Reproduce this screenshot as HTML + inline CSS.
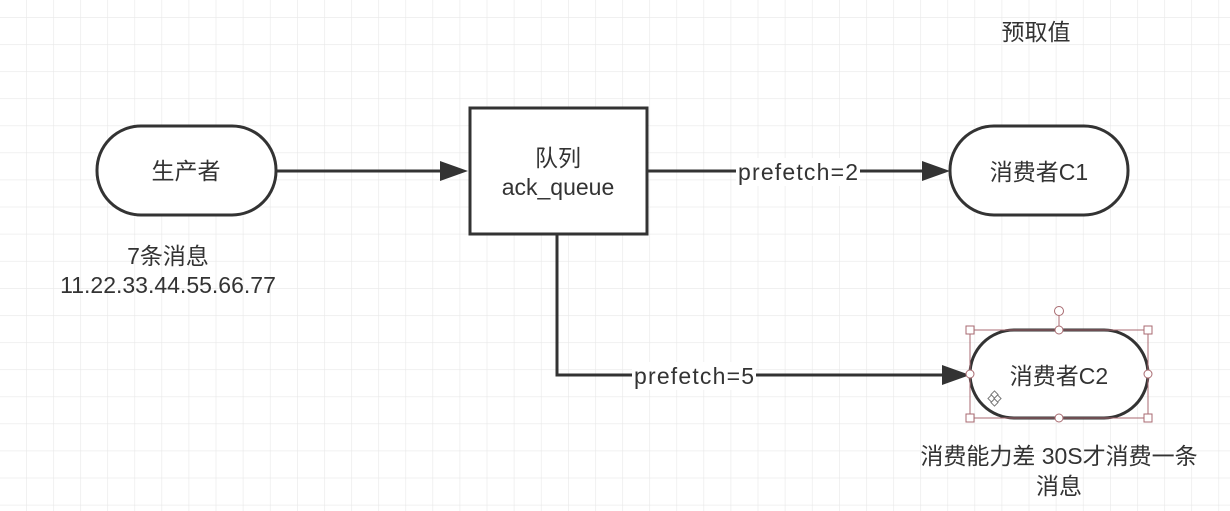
<!DOCTYPE html>
<html><head><meta charset="utf-8"><style>
html,body{margin:0;padding:0;background:#fff;width:1230px;height:511px;overflow:hidden}
svg text{font-family:"Liberation Sans","Noto Sans CJK SC",sans-serif;font-size:23px;fill:#333}
</style></head><body>
<svg width="1230" height="511" xmlns="http://www.w3.org/2000/svg">
<defs>
<pattern id="g" x="26" y="17" width="27.1" height="27.1" patternUnits="userSpaceOnUse">
<path d="M0 0H27.1M0 0V27.1" stroke="#e8e8e8" stroke-width="1.2" fill="none"/>
</pattern>
</defs>
<rect width="1230" height="511" fill="url(#g)"/>
<g stroke="#333" stroke-width="3" fill="none">
<line x1="276" y1="171" x2="445" y2="171"/>
<line x1="647" y1="171" x2="926" y2="171"/>
<polyline points="557,234 557,375 946,375"/>
</g>
<g fill="#333">
<polygon points="468,171 440,161 440,181"/>
<polygon points="950,171 922,161 922,181"/>
<polygon points="970,375 942,365 942,385"/>
</g>
<rect x="97" y="126" width="179" height="89" rx="44" fill="#fff" stroke="#333" stroke-width="3"/>
<rect x="470" y="108" width="177" height="126" fill="#fff" stroke="#333" stroke-width="3"/>
<rect x="950" y="126" width="178" height="89" rx="44" fill="#fff" stroke="#333" stroke-width="3"/>
<rect x="970" y="330" width="178" height="88" rx="44" fill="#fff" stroke="#333" stroke-width="3"/>
<rect x="736" y="158" width="124" height="28" fill="#fff"/>
<rect x="632" y="362" width="124" height="28" fill="#fff"/>
<g text-anchor="middle">
<text x="186" y="179">生产者</text>
<text x="558" y="166">队列</text>
<text x="558" y="195">ack_queue</text>
<text x="798" y="180" textLength="120">prefetch=2</text>
<text x="694" y="384" textLength="120">prefetch=5</text>
<text x="1039" y="180">消费者C1</text>
<text x="1059" y="384">消费者C2</text>
<text x="168" y="264">7条消息</text>
<text x="168" y="293">11.22.33.44.55.66.77</text>
<text x="1036" y="40">预取值</text>
<text x="1059" y="464">消费能力差 30S才消费一条</text>
<text x="1059" y="494">消息</text>
</g>
<g stroke="#a86a70" stroke-width="1" fill="#fff">
<rect x="970" y="330" width="178" height="88" fill="none"/>
<line x1="1059" y1="316" x2="1059" y2="330"/>
<circle cx="1059" cy="311" r="4.5"/>
<rect x="966" y="326" width="8" height="8"/>
<rect x="1144" y="326" width="8" height="8"/>
<rect x="966" y="414" width="8" height="8"/>
<rect x="1144" y="414" width="8" height="8"/>
<circle cx="1059" cy="330" r="4"/>
<circle cx="1059" cy="418" r="4"/>
<circle cx="970" cy="374" r="4"/>
<circle cx="1148" cy="374" r="4"/>
</g>
<g stroke="#777" stroke-width="1" fill="#fff">
<rect x="989" y="396" width="5" height="5" transform="rotate(45 991.5 398.5)"/>
<rect x="995" y="396" width="5" height="5" transform="rotate(45 997.5 398.5)"/>
<rect x="992" y="392" width="5" height="5" transform="rotate(45 994.5 394.5)"/>
<rect x="992" y="400" width="5" height="5" transform="rotate(45 994.5 402.5)"/>
</g>
</svg>
</body></html>
